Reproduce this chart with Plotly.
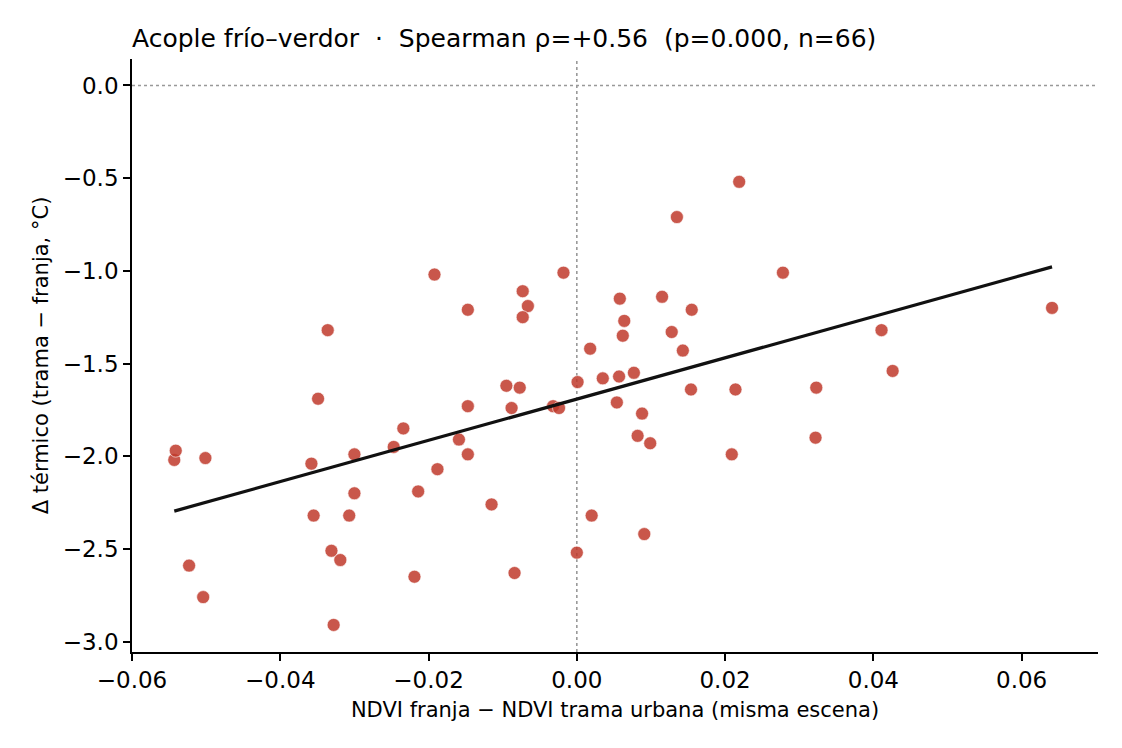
import numpy as np
import plotly.graph_objects as go

# NDVI difference (franja - trama urbana)
ndvi_diff = [
    -0.0543, -0.0541, -0.0501, -0.0523, -0.0504,
    -0.0336, -0.0349, -0.0358, -0.0355, -0.0300, -0.0300, -0.0307, -0.0331, -0.0319, -0.0328,
    -0.0247, -0.0234, -0.0214, -0.0219, -0.0192, -0.0188, -0.0159,
    -0.0147, -0.0147, -0.0147, -0.0115, -0.0095, -0.0088, -0.0084, -0.0077,
    -0.0073, -0.0066, -0.0073, -0.0032, -0.0024, -0.0018,
    0.0001, 0.0000, 0.0018, 0.0020, 0.0035, 0.0054, 0.0057, 0.0058, 0.0064, 0.0062,
    0.0077, 0.0082, 0.0088, 0.0091, 0.0099, 0.0115, 0.0128, 0.0135, 0.0143, 0.0154, 0.0155,
    0.0209, 0.0214, 0.0219, 0.0278, 0.0323, 0.0322, 0.0411, 0.0426, 0.0641,
]
# Thermal difference (trama - franja, °C)
delta_t = [
    -2.02, -1.97, -2.01, -2.59, -2.76,
    -1.32, -1.69, -2.04, -2.32, -1.99, -2.20, -2.32, -2.51, -2.56, -2.91,
    -1.95, -1.85, -2.19, -2.65, -1.02, -2.07, -1.91,
    -1.21, -1.73, -1.99, -2.26, -1.62, -1.74, -2.63, -1.63,
    -1.11, -1.19, -1.25, -1.73, -1.74, -1.01,
    -1.60, -2.52, -1.42, -2.32, -1.58, -1.71, -1.57, -1.15, -1.27, -1.35,
    -1.55, -1.89, -1.77, -2.42, -1.93, -1.14, -1.33, -0.71, -1.43, -1.64, -1.21,
    -1.99, -1.64, -0.52, -1.01, -1.63, -1.90, -1.32, -1.54, -1.20,
]

title_text = "Acople frío–verdor  ·  Spearman ρ=+0.56  (p=0.000, n=66)"
x_label = "NDVI franja − NDVI trama urbana (misma escena)"
y_label = "Δ térmico (trama − franja, °C)"
x_ticks = [-0.06, -0.04, -0.02, 0.00, 0.02, 0.04, 0.06]
y_ticks = [0.0, -0.5, -1.0, -1.5, -2.0, -2.5, -3.0]

x = np.array(ndvi_diff)
y = np.array(delta_t)
slope, intercept = np.polyfit(x, y, 1)
fx = np.array([x.min(), x.max()])
fy = slope * fx + intercept

FONT = "DejaVu Sans"
W, H = 1106, 732  # page body adds an 8px offset

fig = go.Figure()
fig.add_trace(go.Scatter(
    x=ndvi_diff, y=delta_t, mode="markers",
    marker=dict(size=13, color="rgba(192,57,43,0.85)",
                line=dict(color="white", width=0.6)),
    showlegend=False, hoverinfo="skip",
))
fig.add_trace(go.Scatter(
    x=fx, y=fy, mode="lines",
    line=dict(color="#111111", width=3.2),
    showlegend=False, hoverinfo="skip",
))

fig.add_shape(type="line", xref="paper", yref="y", x0=0, x1=1, y0=0, y1=0,
              line=dict(color="#999999", width=1.6, dash="dot"), layer="below")
fig.add_shape(type="line", xref="x", yref="paper", x0=0, x1=0, y0=0, y1=1,
              line=dict(color="#999999", width=1.6, dash="dot"), layer="below")

axis_common = dict(
    showgrid=False, zeroline=False, showline=True, linecolor="black", linewidth=1.7,
    ticks="outside", ticklen=7, tickwidth=1.6, tickcolor="black",
    tickfont=dict(family=FONT, size=23, color="black"),
    mirror=False,
)

fig.update_layout(
    width=W, height=H,
    paper_bgcolor="white", plot_bgcolor="white",
    margin=dict(l=124, r=16, t=51, b=88),
    font=dict(family=FONT, color="black"),
    title=dict(text=title_text, x=124 / W, xanchor="left", xref="container",
               y=1 - 30 / H, yanchor="middle", yref="container",
               font=dict(family=FONT, size=25, color="black")),
    xaxis=dict(range=[-0.06, 0.0703], tickvals=x_ticks, tickformat=".2f",
               title=dict(text=x_label, font=dict(family=FONT, size=21), standoff=10),
               **axis_common),
    yaxis=dict(range=[-3.056, 0.1426], tickvals=y_ticks, tickformat=".1f",
               title=dict(text=y_label, font=dict(family=FONT, size=21), standoff=8),
               **axis_common),
)

fig.write_html("out.html")
